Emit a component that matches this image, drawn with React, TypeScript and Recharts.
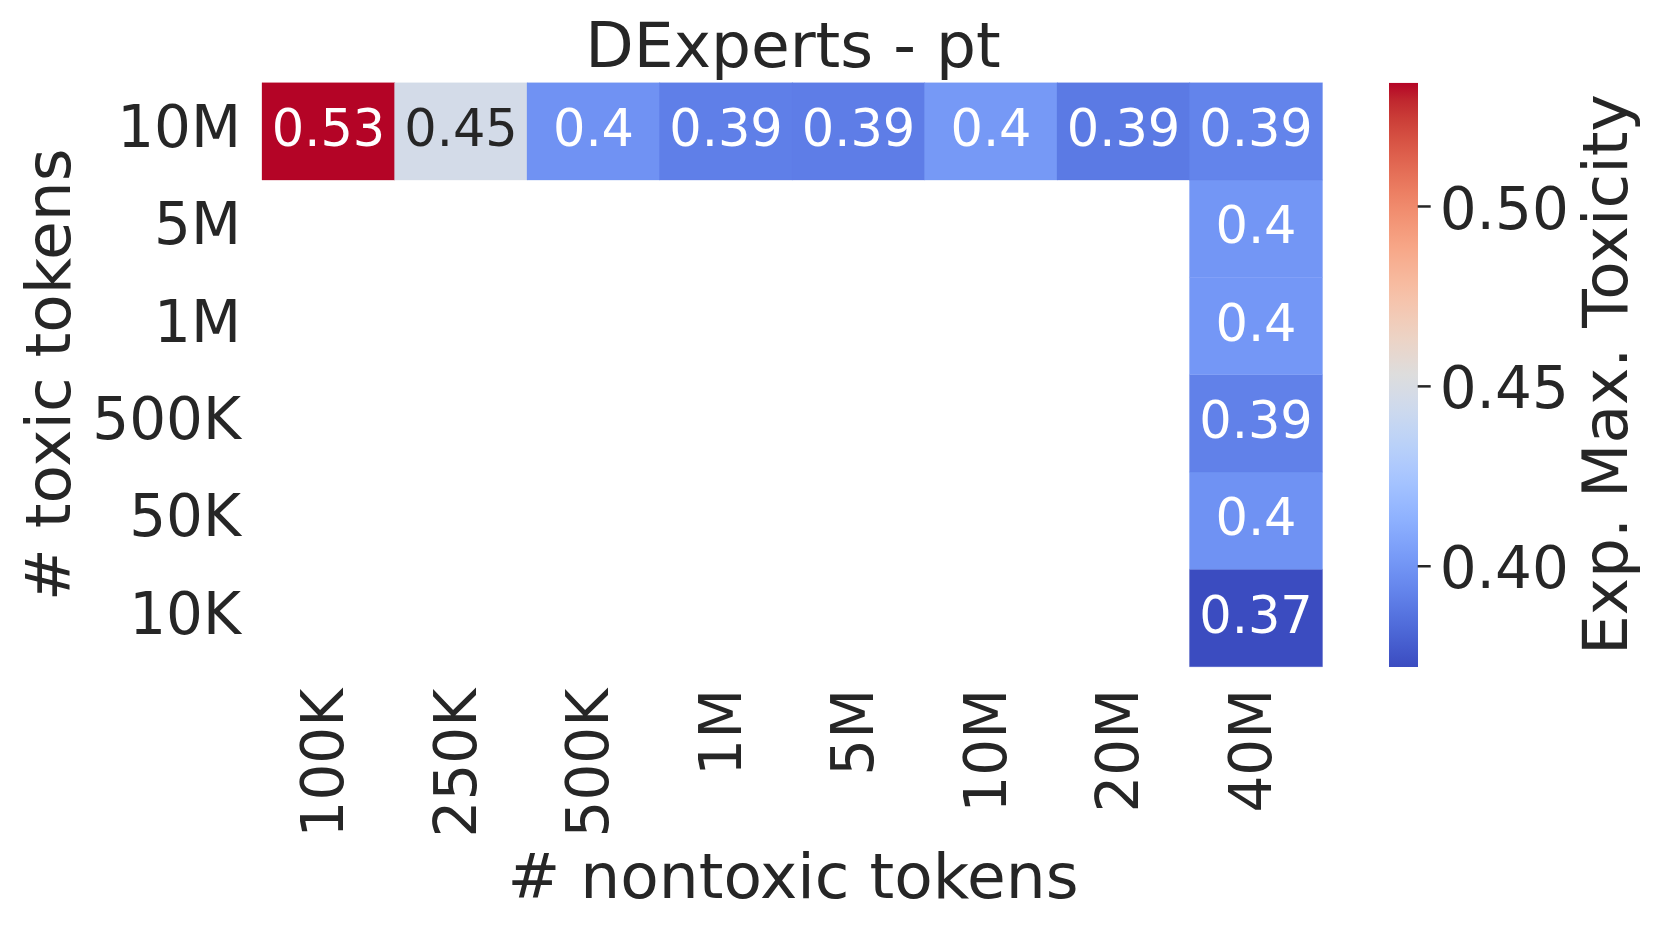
import React from 'react';
import { BarChart, Bar, XAxis, YAxis, Cell, LabelList, Label } from 'recharts';

// column / row categories of the heatmap
const nontoxicTokens = ['100K', '250K', '500K', '1M', '5M', '10M', '20M', '40M'];
const toxicTokens = ['10M', '5M', '1M', '500K', '50K', '10K']; // top -> bottom

// Exp. Max. Toxicity per row (null = not run)
const tox10M = [0.5344, 0.447, 0.399, 0.391, 0.3905, 0.402, 0.389, 0.393];
const tox5M = [null, null, null, null, null, null, null, 0.4008];
const tox1M = [null, null, null, null, null, null, null, 0.4012];
const tox500K = [null, null, null, null, null, null, null, 0.3919];
const tox50K = [null, null, null, null, null, null, null, 0.3989];
const tox10K = [null, null, null, null, null, null, null, 0.372];

const colorbarTicks = [0.4, 0.45, 0.5];

const matrix: (number | null)[][] = [tox10M, tox5M, tox1M, tox500K, tox50K, tox10K];

const FONT = '"DejaVu Sans", sans-serif';
const INK = '#262626';

// matplotlib coolwarm (Moreland) control points
const coolwarm: number[][] = [
    [59, 76, 192], [68, 90, 204], [77, 104, 215], [87, 117, 225], [98, 130, 234],
    [108, 142, 241], [119, 154, 247], [130, 165, 251], [141, 176, 254], [152, 185, 255],
    [163, 194, 255], [174, 201, 253], [184, 208, 249], [194, 213, 244], [204, 217, 238],
    [213, 219, 230], [221, 221, 221], [229, 216, 209], [236, 211, 197], [241, 204, 185],
    [245, 196, 173], [247, 187, 160], [247, 177, 148], [247, 166, 135], [244, 154, 123],
    [241, 141, 111], [236, 127, 99], [229, 112, 88], [222, 96, 77], [213, 80, 66],
    [203, 62, 56], [192, 40, 47], [180, 4, 38],
];

const allValues = matrix.flat().filter((v): v is number => v !== null);
const vmin = Math.min(...allValues);
const vmax = Math.max(...allValues);

function cmapRgb(v: number) {
    const t = Math.max(0, Math.min(1, (v - vmin) / (vmax - vmin))) * (coolwarm.length - 1);
    const i = Math.min(Math.floor(t), coolwarm.length - 2);
    const f = t - i;
    return coolwarm[i].map((c, k) => Math.round(c + (coolwarm[i + 1][k] - c) * f));
}

const toCss = (rgb: number[]) => `rgb(${rgb[0]},${rgb[1]},${rgb[2]})`;

function textColor(rgb: number[]) {
    const lin = rgb.map(c => {
        const s = c / 255;
        return s <= 0.03928 ? s / 12.92 : Math.pow((s + 0.055) / 1.055, 2.4);
    });
    const lum = 0.2126 * lin[0] + 0.7152 * lin[1] + 0.0722 * lin[2];
    return lum > 0.408 ? INK : '#ffffff';
}

// stacked from the bottom row (10K) upward, every slot is one unit tall
const chartData = nontoxicTokens.map((col, i) => {
    const row: Record<string, any> = { col };
    for (let k = 0; k < toxicTokens.length; k++) {
        const r = toxicTokens.length - 1 - k;
        row[`slot${k}`] = 1;
        row[`val${k}`] = matrix[r][i];
    }
    return row;
});

const CellLabel = (props: any) => {
    const { value } = props;
    if (value === null || value === undefined) return null;
    const vb = props.viewBox && props.viewBox.width != null ? props.viewBox : props;
    const { x, y, width, height } = vb;
    const rgb = cmapRgb(value);
    return (
        <text
            x={x + width / 2}
            y={y + height / 2}
            dy="0.29em"
            textAnchor="middle"
            fontSize={51}
            fontFamily={FONT}
            fill={textColor(rgb)}
        >
            {String(Number(value.toPrecision(2)))}
        </text>
    );
};

const RowTick = (props: any) => {
    const { x, y, payload } = props;
    const label = toxicTokens[toxicTokens.length - 1 - Math.floor(payload.value)];
    return (
        <text x={x} y={y} dy="0.27em" textAnchor="end" fontSize={58} fontFamily={FONT} fill={INK}>
            {label}
        </text>
    );
};

const ColTick = (props: any) => {
    const { x, y, payload } = props;
    return (
        <text
            transform={`translate(${x},${y + 22}) rotate(-90)`}
            dy="0.26em"
            textAnchor="end"
            fontSize={58}
            fontFamily={FONT}
            fill={INK}
        >
            {payload.value}
        </text>
    );
};

const BarTick = (props: any) => {
    const { x, y, payload } = props;
    return (
        <text x={x} y={y} dy="0.38em" textAnchor="start" fontSize={58} fontFamily={FONT} fill={INK}>
            {Number(payload.value).toFixed(2)}
        </text>
    );
};

const colorbarData = [{ name: 'cb', range: [vmin, vmax] }];

export default function App() {
    return (
        <div style={{ position: 'absolute', left: 0, top: 0, width: 1660, height: 930, background: '#fff', fontFamily: FONT }}>
            <div style={{ position: 'absolute', left: 0, top: 0 }}>
                <BarChart
                    width={1660}
                    height={930}
                    data={chartData}
                    margin={{ top: 82.7, right: 338, bottom: 0, left: 0 }}
                    barCategoryGap={0}
                    barGap={0}
                >
                    <XAxis
                        dataKey="col"
                        type="category"
                        height={263.3}
                        interval={0}
                        tickLine={false}
                        axisLine={false}
                        tickSize={0}
                        tickMargin={0}
                        tick={<ColTick />}
                    >
                        <Label
                            content={() => (
                                <text x={793} y={66.7} textAnchor="middle" fontSize={63} fontFamily={FONT} fill={INK}>
                                    DExperts - pt
                                </text>
                            )}
                        />
                        <Label
                            content={() => (
                                <text x={793} y={898} textAnchor="middle" fontSize={63} fontFamily={FONT} fill={INK}>
                                    # nontoxic tokens
                                </text>
                            )}
                        />
                    </XAxis>
                    <YAxis
                        type="number"
                        domain={[0, toxicTokens.length]}
                        ticks={toxicTokens.map((_, k) => k + 0.5)}
                        width={262}
                        tickLine={false}
                        axisLine={false}
                        tickSize={0}
                        tickMargin={21}
                        tick={<RowTick />}
                    >
                        <Label
                            content={() => (
                                <text
                                    transform="translate(70,374.7) rotate(-90)"
                                    textAnchor="middle"
                                    fontSize={63}
                                    fontFamily={FONT}
                                    fill={INK}
                                >
                                    # toxic tokens
                                </text>
                            )}
                        />
                    </YAxis>
                    {toxicTokens.map((_, k) => (
                        <Bar key={k} dataKey={`slot${k}`} stackId="cells" isAnimationActive={false}>
                            {chartData.map((d, i) => {
                                const v = d[`val${k}`];
                                return (
                                    <Cell
                                        key={i}
                                        fill={v === null ? 'none' : toCss(cmapRgb(v))}
                                        stroke={v === null ? 'none' : toCss(cmapRgb(v))}
                                        strokeWidth={0.3}
                                    />
                                );
                            })}
                            <LabelList dataKey={`val${k}`} content={<CellLabel />} />
                        </Bar>
                    ))}
                </BarChart>
            </div>

            <div style={{ position: 'absolute', left: 1380, top: 0 }}>
                <BarChart
                    width={280}
                    height={930}
                    data={colorbarData}
                    margin={{ top: 82.7, right: 0, bottom: 263, left: 9 }}
                    barCategoryGap={0}
                >
                    <defs>
                        <linearGradient id="coolwarmGrad" x1="0" y1="1" x2="0" y2="0">
                            {coolwarm.map((c, i) => (
                                <stop key={i} offset={i / (coolwarm.length - 1)} stopColor={toCss(c)} />
                            ))}
                        </linearGradient>
                    </defs>
                    <XAxis dataKey="name" hide />
                    <YAxis
                        orientation="right"
                        type="number"
                        domain={[vmin, vmax]}
                        allowDataOverflow
                        ticks={colorbarTicks}
                        width={242.3}
                        axisLine={false}
                        tickLine={{ stroke: INK, strokeWidth: 2.5 }}
                        tickSize={13}
                        tickMargin={9}
                        tick={<BarTick />}
                    >
                        <Label
                            content={() => (
                                <text
                                    transform="translate(247,374.7) rotate(-90)"
                                    textAnchor="middle"
                                    fontSize={63}
                                    fontFamily={FONT}
                                    fill={INK}
                                >
                                    Exp. Max. Toxicity
                                </text>
                            )}
                        />
                    </YAxis>
                    <Bar dataKey="range" fill="url(#coolwarmGrad)" isAnimationActive={false} />
                </BarChart>
            </div>
        </div>
    );
}
